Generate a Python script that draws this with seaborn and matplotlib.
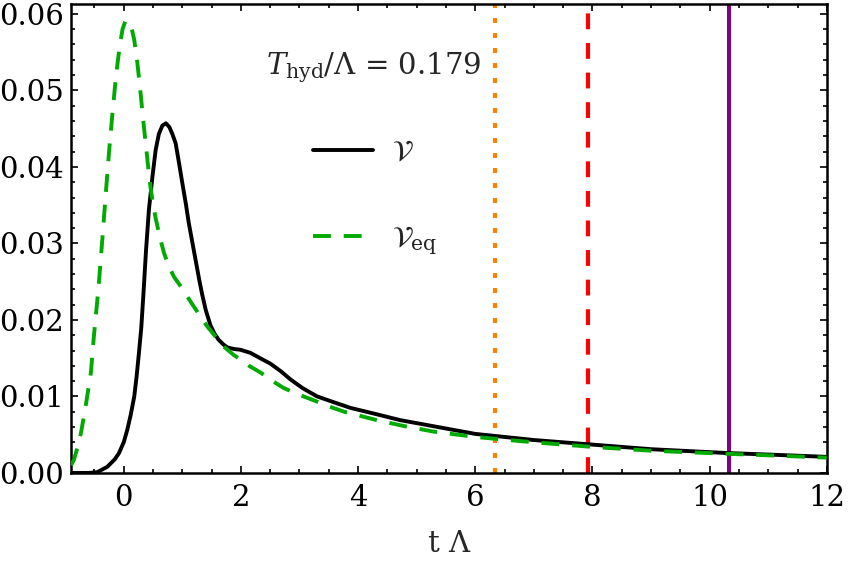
import matplotlib
matplotlib.use("Agg")
import matplotlib.pyplot as plt
import seaborn as sns
from matplotlib.ticker import MultipleLocator

# Values
t_v = [-0.9, -0.6, -0.45, -0.28, -0.15, -0.08, 0.0, 0.06, 0.12, 0.18, 0.22, 0.26,
       0.3, 0.34, 0.38, 0.43, 0.49, 0.545, 0.6, 0.66, 0.72, 0.78, 0.83, 0.886, 0.94,
       1.0, 1.06, 1.11, 1.17, 1.23, 1.29, 1.34, 1.4, 1.48, 1.55, 1.62, 1.7, 1.77,
       1.88, 1.99, 2.16, 2.28, 2.4, 2.5, 2.68, 2.85, 3.05, 3.3, 3.6, 3.87, 4.3,
       4.72, 5.29, 6.0, 7.0, 8.0, 9.0, 10.3, 11.0, 12.0]
v = [0.0, 0.0, 0.0001, 0.0008, 0.0018, 0.0026, 0.0040, 0.0056, 0.0076, 0.0100, 0.0126,
     0.0157, 0.0190, 0.0238, 0.0290, 0.0344, 0.0387, 0.0422, 0.0443, 0.0454, 0.0457,
     0.0452, 0.0443, 0.0431, 0.0407, 0.0379, 0.0352, 0.0327, 0.0302, 0.0277, 0.0252,
     0.0233, 0.0213, 0.0193, 0.0182, 0.0174, 0.0168, 0.0164, 0.0162, 0.0161, 0.0157,
     0.0152, 0.0147, 0.0143, 0.0133, 0.0122, 0.0111, 0.0100, 0.0092, 0.0085, 0.0077,
     0.0069, 0.0061, 0.0051, 0.0043, 0.0037, 0.0031, 0.0026, 0.0024, 0.0021]

t_eq = [-0.9, -0.85, -0.79, -0.73, -0.65, -0.56, -0.51, -0.45, -0.42, -0.36, -0.31,
        -0.25, -0.19, -0.13, -0.07, -0.02, 0.03, 0.08, 0.13, 0.18, 0.23, 0.29, 0.33,
        0.375, 0.42, 0.46, 0.5, 0.545, 0.62, 0.69, 0.77, 0.86, 1.0, 1.14, 1.28, 1.43,
        1.57, 1.71, 1.88, 2.0, 2.14, 2.34, 2.5, 2.73, 3.0, 3.24, 3.5, 3.76, 4.32, 4.8,
        5.29, 6.0, 7.0, 8.0, 9.0, 10.3, 11.0, 12.0]
v_eq = [0.0010, 0.0017, 0.0033, 0.0052, 0.0087, 0.0131, 0.0178, 0.0226, 0.0252, 0.0310,
        0.0361, 0.0420, 0.0472, 0.0520, 0.0557, 0.0580, 0.0591, 0.0590, 0.0583, 0.0566,
        0.0538, 0.0495, 0.0463, 0.0431, 0.0398, 0.0372, 0.0352, 0.0333, 0.0307, 0.0287,
        0.0270, 0.0256, 0.0241, 0.0224, 0.0208, 0.0191, 0.0178, 0.0165, 0.0154, 0.0148,
        0.0140, 0.0131, 0.0122, 0.0111, 0.0102, 0.0095, 0.0087, 0.0080, 0.0069, 0.0061,
        0.0054, 0.0047, 0.0040, 0.0034, 0.0029, 0.0025, 0.0023, 0.0020]

# vertical marker times
t_marks = [6.33, 7.92, 10.33]
mark_colors = ["#FF8000", "#FF0000", "#800080"]
mark_dashes = [(1.2, 2.4), (3.8, 3.3), None]

sns.set_theme(style="ticks")
plt.rcParams["font.family"] = ["DejaVu Serif"]
plt.rcParams["mathtext.fontset"] = "dejavuserif"

fig = plt.figure(figsize=(8.48, 5.63), dpi=100)
ax = fig.add_axes([0.0837, 0.160, 0.8913, 0.833])

for tm, c, d in zip(t_marks, mark_colors, mark_dashes):
    if d is None:
        ax.axvline(tm, color=c, lw=2.9, zorder=1)
    else:
        ax.axvline(tm, color=c, lw=3.0, dashes=d, zorder=1)

sns.lineplot(x=t_v, y=v, ax=ax, color="black", lw=2.8, label=r"$\mathcal{V}$", zorder=3)
sns.lineplot(x=t_eq, y=v_eq, ax=ax, color="#00AA00", lw=2.8, label=r"$\mathcal{V}_{\rm eq}$",
             zorder=4)
ax.lines[-1].set_dashes((4.6, 3.3))

ax.set_xlim(-0.9, 12)
ax.set_ylim(0, 0.0613)
ax.xaxis.set_major_locator(MultipleLocator(2))
ax.xaxis.set_minor_locator(MultipleLocator(0.5))
ax.yaxis.set_major_locator(MultipleLocator(0.01))
ax.yaxis.set_minor_locator(MultipleLocator(0.002))
ax.yaxis.set_major_formatter(plt.FormatStrFormatter("%.2f"))

ax.tick_params(which="both", direction="in", top=True, right=True, width=1.2,
               labelsize=21, colors="black")
ax.tick_params(which="major", length=4.8)
ax.tick_params(which="minor", length=3)
ax.tick_params(axis="x", pad=8)
ax.tick_params(axis="y", pad=5)
for s in ax.spines.values():
    s.set_linewidth(1.8)
    s.set_color("black")

ax.set_xlabel("t Λ", fontsize=21, labelpad=13)
ax.set_ylabel("")

ax.text(0.40, 0.864, r"$T_{\rm hyd}/\Lambda$ = 0.179", transform=ax.transAxes,
        fontsize=21, ha="center", va="center")

leg = ax.legend(loc="upper left", bbox_to_anchor=(0.32, 0.714), frameon=False,
                fontsize=21, handlelength=2.07, handletextpad=0.65, labelspacing=2.0,
                borderpad=0, borderaxespad=0)

fig.savefig("out.png", dpi=100)
